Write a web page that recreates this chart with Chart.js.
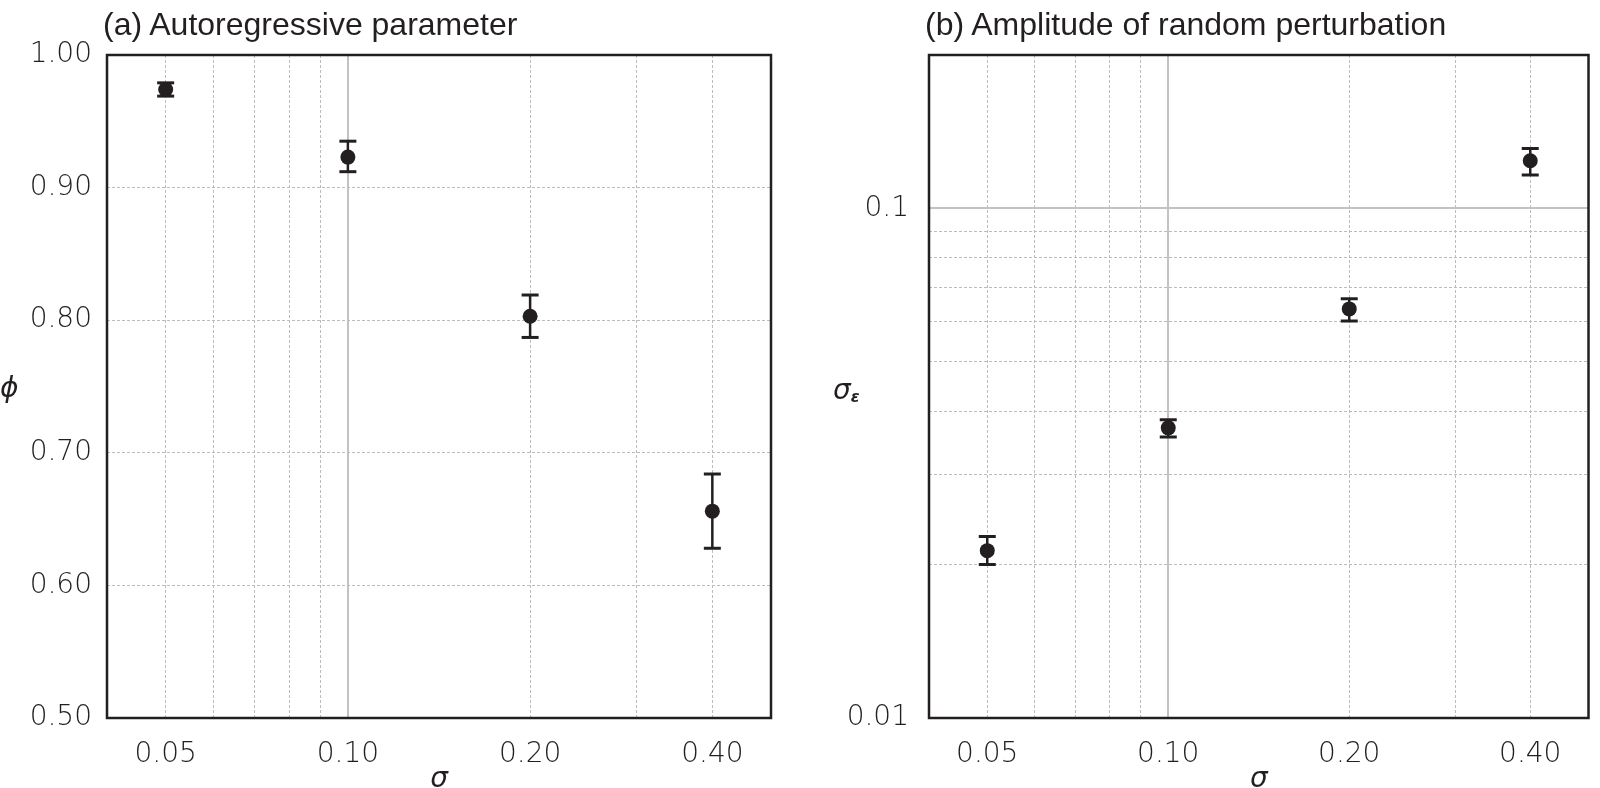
<!DOCTYPE html>
<html><head><meta charset="utf-8">
<script src="https://cdn.jsdelivr.net/npm/chart.js@4"></script>
<style>
html,body{margin:0;padding:0;background:#fff;}
#wrap{position:relative;width:1600px;height:788px;overflow:hidden;background:#fff;}
canvas{position:absolute;top:0;}
.ttl{position:absolute;font-family:'Liberation Sans',Arial,sans-serif;font-size:32px;color:#231f20;white-space:nowrap;line-height:1;}
.ax{position:absolute;font-family:'DejaVu Sans',sans-serif;font-style:italic;font-size:28px;color:#231f20;line-height:1;white-space:nowrap;}
.ax sub{font-size:16px;vertical-align:-3px;font-weight:bold;}
</style></head><body>
<div id="wrap">
<canvas id="c1" width="800" height="788" style="left:0"></canvas>
<canvas id="c2" width="800" height="788" style="left:800px"></canvas>
<div class="ttl" style="left:103px;top:8px">(a) Autoregressive parameter</div>
<div class="ttl" style="left:925px;top:8px">(b) Amplitude of random perturbation</div>
<div class="ax" style="left:0px;top:374px">ϕ</div>
<div class="ax" style="left:833px;top:376px">σ<sub>ε</sub></div>
</div>
<script>
// ---- data ----
const sigmas = [0.05, 0.10, 0.20, 0.40];
const phiMean = [0.974, 0.923, 0.803, 0.656];
const phiLow  = [0.969, 0.912, 0.787, 0.628];
const phiHigh = [0.979, 0.935, 0.819, 0.684];
const sigEpsMean = [0.0213, 0.0371, 0.0635, 0.124];
const sigEpsLow  = [0.0200, 0.0356, 0.0601, 0.1163];
const sigEpsHigh = [0.0227, 0.0385, 0.0665, 0.1311];

const xTicks = [0.05, 0.06, 0.07, 0.08, 0.09, 0.10, 0.20, 0.30, 0.40];
const xTickLabels = ['0.05', '', '', '', '', '0.10', '0.20', '', '0.40'];
const phiTicks = [0.5, 0.6, 0.7, 0.8, 0.9, 1.0];
const phiTickLabels = ['0.50', '0.60', '0.70', '0.80', '0.90', '1.00'];
const epsTicks = [0.01, 0.02, 0.03, 0.04, 0.05, 0.06, 0.07, 0.08, 0.09, 0.1, 0.2];
const epsTickLabels = ['0.01', '', '', '', '', '', '', '', '', '0.1', ''];

const INK = '#231f20';
const GRID = '#bcbcbc';
const tickFont = {family: "'DejaVu Sans', sans-serif", size: 28, weight: '200'};

function isMajor(v){ return Math.abs(v - 0.1) < 1e-9; }

function gridFor(solidAtTenth){
  return {
    drawTicks: false,
    color: ctx => (solidAtTenth && ctx.tick && isMajor(ctx.tick.value)) ? '#c2c2c2' : GRID,
    lineWidth: ctx => (solidAtTenth && ctx.tick && isMajor(ctx.tick.value)) ? 2 : 1
  };
}
function borderFor(solidAtTenth){
  return {
    display: false,
    dash: ctx => (solidAtTenth && ctx.tick && isMajor(ctx.tick.value)) ? [] : [3, 2]
  };
}

const framePlugin = {
  id: 'frame',
  afterDraw(chart){
    const a = chart.chartArea, c = chart.ctx;
    c.save();
    c.strokeStyle = INK; c.lineWidth = 2.5; c.setLineDash([]);
    c.strokeRect(a.left, a.top, a.right - a.left, a.bottom - a.top);
    c.restore();
  }
};

function errData(lo, hi){
  const d = [];
  sigmas.forEach((s, i) => { d.push({x: s, y: lo[i]}); d.push({x: s, y: hi[i]}); d.push({x: s, y: null}); });
  return d;
}

function makeChart(id, mean, lo, hi, yCfg, yWidth, padRight, yPad){
  return new Chart(document.getElementById(id), {
    type: 'scatter',
    data: {
      datasets: [
        {
          label: 'mean',
          data: sigmas.map((s, i) => ({x: s, y: mean[i]})),
          pointRadius: 7.5, pointBorderWidth: 0,
          backgroundColor: INK, borderColor: INK, pointStyle: 'circle'
        },
        {
          label: 'err',
          data: errData(lo, hi),
          showLine: true, spanGaps: false,
          borderColor: INK, borderWidth: 2.5,
          pointStyle: 'line', pointRadius: 8.5, pointBorderWidth: 3,
          pointBorderColor: INK, backgroundColor: INK
        }
      ]
    },
    options: {
      responsive: false, animation: false, devicePixelRatio: 1,
      layout: {padding: {left: 0, right: padRight, top: 55, bottom: 0}},
      plugins: {legend: {display: false}, tooltip: {enabled: false}},
      scales: {
        x: {
          type: 'logarithmic', min: 0.04, max: 0.5,
          afterBuildTicks: s => { s.ticks = xTicks.map(v => ({value: v})); },
          afterFit: s => { s.height = 70; },
          ticks: {
            autoSkip: false, maxRotation: 0, minRotation: 0, padding: 20,
            color: INK, font: tickFont,
            callback: (v, i) => xTickLabels[i]
          },
          grid: gridFor(true), border: borderFor(true),
          title: {display: true, text: 'σ', color: INK, padding: {top: 0, bottom: 0},
                  font: {family: "'DejaVu Sans', sans-serif", size: 28, style: 'italic', lineHeight: 0.6}}
        },
        y: Object.assign({
          afterFit: s => { s.width = yWidth; },
          ticks: {
            autoSkip: false, padding: yPad, color: INK, font: tickFont,
            callback: (v, i) => yCfg.labels[i]
          },
          afterBuildTicks: s => { s.ticks = yCfg.ticks.map(v => ({value: v})); },
          grid: gridFor(yCfg.solid), border: borderFor(yCfg.solid)
        }, yCfg.scale)
      }
    },
    plugins: [framePlugin]
  });
}

makeChart('c1', phiMean, phiLow, phiHigh,
  {ticks: phiTicks, labels: phiTickLabels, solid: false, scale: {type: 'linear', min: 0.5, max: 1.0}},
  107, 29, 15);
makeChart('c2', sigEpsMean, sigEpsLow, sigEpsHigh,
  {ticks: epsTicks, labels: epsTickLabels, solid: true, scale: {type: 'logarithmic', min: 0.01, max: 0.2}},
  129, 11, 20);
</script>
</body></html>
